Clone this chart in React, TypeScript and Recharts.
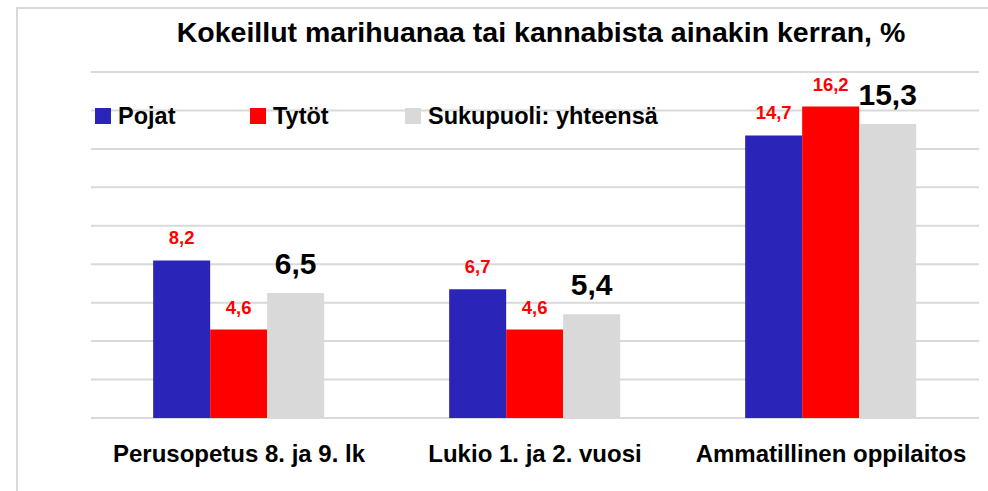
import React from 'react';
import { BarChart, Bar, XAxis, YAxis, CartesianGrid, Legend, LabelList } from 'recharts';

const categories = ['Perusopetus 8. ja 9. lk', 'Lukio 1. ja 2. vuosi', 'Ammatillinen oppilaitos'];
const pojat = [8.2, 6.7, 14.7];
const tytot = [4.6, 4.6, 16.2];
const yhteensa = [6.5, 5.4, 15.3];
const yTicks = [0, 2, 4, 6, 8, 10, 12, 14, 16, 18];

const title = 'Kokeillut marihuanaa tai kannabista ainakin kerran, %';
const seriesNames = { pojat: 'Pojat', tytot: 'Tytöt', yhteensa: 'Sukupuoli: yhteensä' };

const data = categories.map((c, i) => ({ name: c, pojat: pojat[i], tytot: tytot[i], yhteensa: yhteensa[i] }));

const FONT = "'Liberation Sans', Arial, sans-serif";
const BLUE = '#2B24B9';
const RED = '#FF0000';
const GRAY = '#D9D9D9';

const fmt = (v: any) => String(v).replace('.', ',');

const legendItems = [
  { key: 'pojat', color: BLUE, left: 95 },
  { key: 'tytot', color: RED, left: 250 },
  { key: 'yhteensa', color: GRAY, left: 405 },
];

const LegendContent = () => (
  <div style={{ position: 'relative', width: 700, height: 30, fontFamily: FONT, fontWeight: 700, fontSize: 23.5 }}>
    {legendItems.map((it) => (
      <div key={it.key} style={{ position: 'absolute', left: it.left, top: 0, display: 'flex', alignItems: 'center', whiteSpace: 'nowrap' }}>
        <span style={{ display: 'inline-block', width: 16, height: 16, background: it.color, marginRight: 7 }} />
        <span style={{ color: '#000', lineHeight: '30px' }}>{(seriesNames as any)[it.key]}</span>
      </div>
    ))}
  </div>
);

const Tick = (props: any) => {
  const { x, y, payload } = props;
  return (
    <text x={x} y={y + 36} textAnchor="middle" fontFamily={FONT} fontWeight={700} fontSize={24} fill="#000">
      {payload.value}
    </text>
  );
};

export default function App() {
  return (
    <div style={{ position: 'absolute', left: 0, top: 0, width: 988, height: 491, background: '#fff', overflow: 'hidden' }}>
      <div style={{ position: 'absolute', left: 16, top: 7, width: 1000, height: 500, borderLeft: `2px solid ${GRAY}`, borderTop: `2px solid ${GRAY}` }} />
      <div style={{ position: 'absolute', left: 0, top: 16, width: 1082, textAlign: 'center', fontFamily: FONT, fontWeight: 700, fontSize: 28.5, color: '#000', whiteSpace: 'nowrap' }}>
        {title}
      </div>
      <div style={{ position: 'absolute', left: 0, top: 0 }}>
        <BarChart width={988} height={491} data={data} margin={{ top: 72, right: 9, left: 91, bottom: 13 }} barCategoryGap="21%" barGap={0}>
          <CartesianGrid vertical={false} stroke={GRAY} strokeWidth={2} />
          <YAxis hide domain={[0, 18]} ticks={yTicks} />
          <XAxis dataKey="name" height={60} axisLine={false} tickLine={false} tick={<Tick />} interval={0} />
          <Legend layout="horizontal" verticalAlign="middle" align="center" content={<LegendContent />} wrapperStyle={{ top: 101, left: 0, width: 700, height: 30 }} />
          <Bar dataKey="pojat" name={seriesNames.pojat} fill={BLUE} isAnimationActive={false}>
            <LabelList dataKey="pojat" position="top" offset={16} formatter={fmt} fill={RED} fontFamily={FONT} fontWeight={700} fontSize={18.5} />
          </Bar>
          <Bar dataKey="tytot" name={seriesNames.tytot} fill={RED} isAnimationActive={false}>
            <LabelList dataKey="tytot" position="top" offset={16} formatter={fmt} fill={RED} fontFamily={FONT} fontWeight={700} fontSize={18.5} />
          </Bar>
          <Bar dataKey="yhteensa" name={seriesNames.yhteensa} fill={GRAY} isAnimationActive={false}>
            <LabelList dataKey="yhteensa" position="top" offset={19} formatter={fmt} fill="#000" fontFamily={FONT} fontWeight={700} fontSize={30} />
          </Bar>
        </BarChart>
      </div>
    </div>
  );
}
